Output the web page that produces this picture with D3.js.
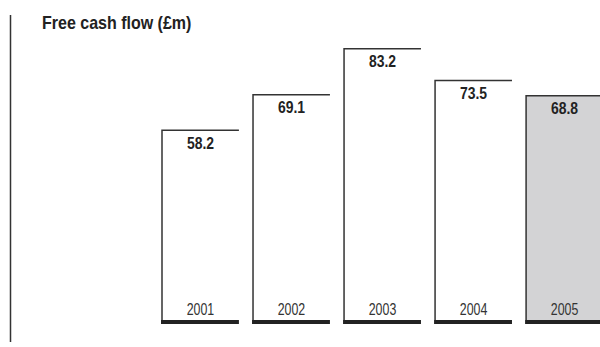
<!DOCTYPE html>
<html>
<head>
<meta charset="utf-8">
<script src="https://cdn.jsdelivr.net/npm/d3@7"></script>
<style>
  body { margin: 0; background: #fff; }
  svg text { font-family: "Liberation Sans", Arial, sans-serif; }
</style>
</head>
<body>
<script>
var years = ["2001", "2002", "2003", "2004", "2005"];
var values = [58.2, 69.1, 83.2, 73.5, 68.8];
var title = "Free cash flow (£m)";

var width = 600,
    height = 347,
    baseY = 320;

var svg = d3.select("body").append("svg")
    .attr("width", width)
    .attr("height", height);

var x = d3.scaleBand()
    .domain(years)
    .range([162, 603])
    .paddingInner(0.155)
    .paddingOuter(0);

var y = d3.scaleLinear()
    .domain([0, 100])
    .range([baseY, baseY - 326]);

// left rule
svg.append("line")
    .attr("x1", 10.5).attr("x2", 10.5)
    .attr("y1", 15).attr("y2", 342)
    .attr("stroke", "#333")
    .attr("stroke-width", 1.5);

// condensed look: squeeze text horizontally
svg.append("text")
    .attr("transform", "translate(42,29) scale(0.89,1)")
    .attr("font-size", 18)
    .attr("font-weight", "bold")
    .attr("fill", "#222")
    .text(title);

var data = years.map(function(d, i) { return {year: d, value: values[i], last: i == years.length - 1}; });

var bar = svg.selectAll(".bar")
    .data(data)
    .enter().append("g")
    .attr("class", "bar");

bar.append("rect")
    .attr("x", function(d) { return x(d.year); })
    .attr("y", function(d) { return y(d.value); })
    .attr("width", x.bandwidth())
    .attr("height", function(d) { return baseY - y(d.value); })
    .attr("fill", function(d) { return d.last ? "#d3d3d5" : "#fff"; });

// left and top borders only
bar.append("path")
    .attr("d", function(d) {
        var x0 = x(d.year), y0 = y(d.value);
        return "M" + x0 + "," + baseY + "V" + y0 + "H" + (x0 + x.bandwidth());
    })
    .attr("fill", "none")
    .attr("stroke", "#333")
    .attr("stroke-width", 1.5);

// thick base
bar.append("rect")
    .attr("x", function(d) { return x(d.year) - 1; })
    .attr("y", baseY)
    .attr("width", x.bandwidth() + 1)
    .attr("height", 4)
    .attr("fill", "#222");

bar.append("text")
    .attr("transform", function(d) {
        return "translate(" + (x(d.year) + x.bandwidth() / 2) + "," + (y(d.value) + 18.5) + ") scale(0.87,1)";
    })
    .attr("text-anchor", "middle")
    .attr("font-size", 16)
    .attr("font-weight", "bold")
    .attr("fill", "#222")
    .text(function(d) { return d.value.toFixed(1); });

bar.append("text")
    .attr("transform", function(d) {
        return "translate(" + (x(d.year) + x.bandwidth() / 2) + ",315) scale(0.75,1)";
    })
    .attr("text-anchor", "middle")
    .attr("font-size", 16.5)
    .attr("fill", "#333")
    .text(function(d) { return d.year; });
</script>
</body>
</html>
